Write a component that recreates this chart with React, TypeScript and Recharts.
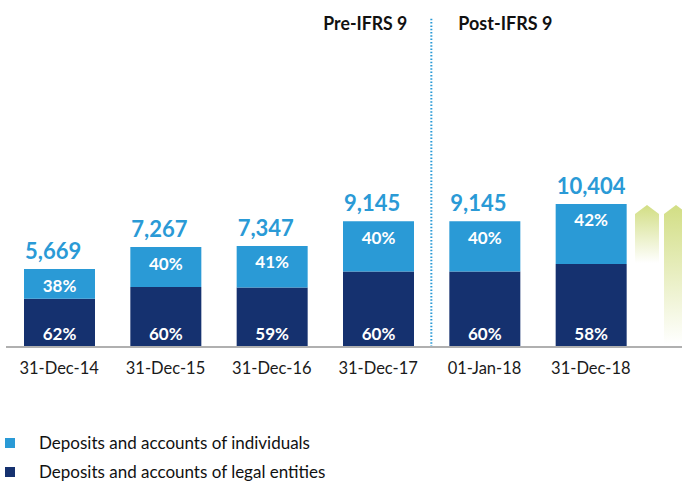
import React from "react";
import { BarChart, Bar, XAxis, YAxis, LabelList, ReferenceLine } from "recharts";

const categories = ["31-Dec-14", "31-Dec-15", "31-Dec-16", "31-Dec-17", "01-Jan-18", "31-Dec-18"];
const totals = [5669, 7267, 7347, 9145, 9145, 10404];
const legalShare = [62, 60, 59, 60, 60, 58];
const individualShare = [38, 40, 41, 40, 40, 42];
const legalValues = [3515, 4360, 4335, 5487, 5487, 6034];
const individualValues = [2154, 2907, 3012, 3658, 3658, 4370];

const LIGHT = "#2a9ad6";
const DARK = "#15316f";
const FONT = "Lato, 'Noto Sans', sans-serif";

const data = categories.map((name, i) => ({
  name,
  total: totals[i],
  legal: legalValues[i],
  individuals: individualValues[i],
  legalPct: legalShare[i],
  indPct: individualShare[i],
}));

const TotalLabel = (props: any) => {
  const { x, y, value } = props;
  return (
    <text x={x + 1} y={y - 10} fill={LIGHT} fontSize={22} fontWeight={700} fontFamily={FONT}>
      {Number(value).toLocaleString("en-US")}
    </text>
  );
};

const TopPct = (props: any) => {
  const { x, y, width, value } = props;
  return (
    <text x={x + width / 2} y={y + 16} fill="#fff" fontSize={17} fontWeight={700} fontFamily={FONT}
      textAnchor="middle" dominantBaseline="central">
      {value}%
    </text>
  );
};

const BottomPct = (props: any) => {
  const { x, y, width, height, value } = props;
  return (
    <text x={x + width / 2} y={y + height - 14} fill="#fff" fontSize={17} fontWeight={700} fontFamily={FONT}
      textAnchor="middle" dominantBaseline="central">
      {value}%
    </text>
  );
};

// period captions either side of the IFRS 9 divider
const PeriodLabels = (props: any) => {
  const vb = props.viewBox || {};
  const x = vb.x ?? 0;
  const y = vb.y ?? 0;
  return (
    <g fontFamily={FONT} fontWeight={700} fontSize={19} fill="#111">
      <text x={x - 108} y={y + 13} textLength={84} lengthAdjust="spacingAndGlyphs">Pre-IFRS 9</text>
      <text x={x + 27} y={y + 13} textLength={94} lengthAdjust="spacingAndGlyphs">Post-IFRS 9</text>
    </g>
  );
};

export default function App() {
  return (
    <div style={{ position: "absolute", left: 0, top: 0, width: 682, height: 481, background: "#fff", fontFamily: FONT }}>
      <BarChart width={682} height={400} data={data} margin={{ top: 17, right: 0, left: 6, bottom: 13 }}>
        <YAxis hide domain={[0, 24000]} />
        <XAxis
          dataKey="name"
          height={40}
          padding={{ left: 0, right: 38 }}
          axisLine={{ stroke: "#b0b0b0", strokeWidth: 2 }}
          tickLine={false}
          tickSize={0}
          tickMargin={15}
          tick={{ fill: "#1a1a1a", fontSize: 16.5, fontFamily: FONT }}
        />
        <ReferenceLine
          x="01-Jan-18"
          position="start"
          stroke={LIGHT}
          strokeWidth={2}
          strokeDasharray="1.5 1.8"
          label={<PeriodLabels />}
        />
        <Bar dataKey="legal" stackId="a" fill={DARK} barSize={71} isAnimationActive={false}>
          <LabelList dataKey="legalPct" content={<BottomPct />} />
        </Bar>
        <Bar dataKey="individuals" stackId="a" fill={LIGHT} barSize={71} isAnimationActive={false}>
          <LabelList dataKey="indPct" content={<TopPct />} />
          <LabelList dataKey="total" content={<TotalLabel />} />
        </Bar>
      </BarChart>

      <svg width={682} height={481} style={{ position: "absolute", left: 0, top: 0, pointerEvents: "none" }}>
        <defs>
          <linearGradient id="arrowFade" x1="0" y1="0" x2="0" y2="1">
            <stop offset="0%" stopColor="#d2de84" />
            <stop offset="100%" stopColor="#d2de84" stopOpacity={0} />
          </linearGradient>
        </defs>
        <polygon points="635,214 647,205 659,214 659,263 635,263" fill="url(#arrowFade)" />
        <polygon points="664,214 676,205 688,214 688,344 664,344" fill="url(#arrowFade)" />
      </svg>

      <div style={{ position: "absolute", left: 5, top: 432, fontSize: 17, color: "#111", lineHeight: "21px" }}>
        <div style={{ display: "flex", alignItems: "center", height: 21 }}>
          <span style={{ width: 10, height: 10, background: LIGHT, display: "inline-block", marginRight: 24 }} />
          Deposits and accounts of individuals
        </div>
        <div style={{ display: "flex", alignItems: "center", height: 21, marginTop: 8 }}>
          <span style={{ width: 10, height: 10, background: DARK, display: "inline-block", marginRight: 24 }} />
          Deposits and accounts of legal entities
        </div>
      </div>
    </div>
  );
}
